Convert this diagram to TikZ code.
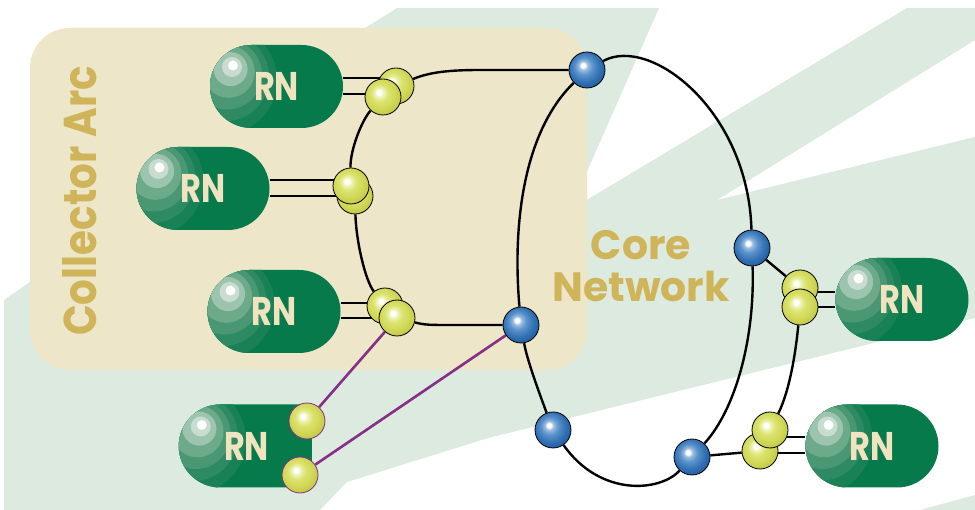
\documentclass[tikz,border=0pt]{standalone}
\usepackage{fontspec}
\usepackage{graphicx}
\setmainfont{Poppins}
\usetikzlibrary{shapes.misc}
\definecolor{bggreen}{HTML}{DCEADF}
\definecolor{beige}{HTML}{EDE6C9}
\definecolor{gold}{HTML}{CFB45A}
\definecolor{rngreen}{HTML}{067A4B}
\definecolor{rncream}{HTML}{EFE4BF}
\definecolor{purp}{HTML}{862F86}
\definecolor{yA}{HTML}{EEF3B8}
\definecolor{yB}{HTML}{DCE36F}
\definecolor{yC}{HTML}{D0D756}
\definecolor{yD}{HTML}{BDC641}
\definecolor{bA}{HTML}{9DBEE0}
\definecolor{bB}{HTML}{5B93CC}
\definecolor{bC}{HTML}{3271B3}
\definecolor{bD}{HTML}{1B5A9C}
\definecolor{gA}{HTML}{C8DDD0}
\definecolor{gB}{HTML}{9CC4AE}
\definecolor{gC}{HTML}{6DAA8A}
\definecolor{gD}{HTML}{4A9873}
\definecolor{gE}{HTML}{2D8A62}
\definecolor{gF}{HTML}{1A8157}
\pgfdeclareradialshading{yball}{\pgfpoint{-6bp}{7bp}}{color(0bp)=(white); color(3bp)=(white); color(6bp)=(yA); color(12bp)=(yB); color(21bp)=(yC); color(30bp)=(yD); color(50bp)=(yD)}
\pgfdeclareradialshading{bball}{\pgfpoint{-6bp}{7bp}}{color(0bp)=(white); color(3bp)=(white); color(6bp)=(bA); color(12bp)=(bB); color(21bp)=(bC); color(30bp)=(bD); color(50bp)=(bD)}
\pgfdeclarelayer{bg}
\pgfsetlayers{bg,main}
\tikzset{
  rnbox/.style={rounded rectangle, fill=rngreen, minimum width=133pt, minimum height=83pt, inner sep=0pt,
    text=rncream, font=\bfseries\fontsize{40}{40}\selectfont,
    path picture={\foreach \r/\c in {54/gF,44/gE,35/gD,26/gC,17/gB,10/gA,5/white}
      \fill[\c] ([xshift={-42.5pt-0.2pt*\r}, yshift={22.5pt-0.3pt*\r}]path picture bounding box.center) circle (\r pt);}},
  yb/.style={circle, minimum size=36pt, inner sep=0pt, draw=black, line width=0.8pt, shade, shading=yball},
  ybp/.style={yb, draw=purp},
  bb/.style={circle, minimum size=36pt, inner sep=0pt, draw=black, line width=0.8pt, shade, shading=bball},
  link/.style={line width=2.4pt, black},
  plink/.style={line width=2.6pt, purp},
}
\begin{document}
\begin{tikzpicture}[x=1pt,y=-1pt]
\useasboundingbox (0,0) rectangle (975,510);
% RN nodes
\node[rnbox] (RN1) at (276.5,86.5) {\scalebox{0.8}[1]{RN}};
\node[rnbox] (RN2) at (203,188.5) {\scalebox{0.8}[1]{RN}};
\node[rnbox] (RN3) at (274,311.5) {\scalebox{0.8}[1]{RN}};
\node[rnbox, rounded rectangle right arc=none] (RN4) at (246.5,446) {\scalebox{0.8}[1]{RN}};
\node[rnbox] (RN5) at (902,299.5) {\scalebox{0.8}[1]{RN}};
\node[rnbox] (RN6) at (872,446) {\scalebox{0.8}[1]{RN}};
% balls (back ones first)
\node[yb] (r1b) at (396,86) {};
\node[yb] (r1a) at (383,97) {};
\node[yb] (r2b) at (355,196) {};
\node[yb] (r2a) at (351,186) {};
\node[yb] (r3b) at (385,306) {};
\node[yb] (r3a) at (397,318) {};
\node[ybp] (r4a) at (307,421) {};
\node[ybp] (r4b) at (300,475) {};
\node[yb] (r5a) at (800,288) {};
\node[yb] (r5b) at (800,307) {};
\node[yb] (r6b) at (760,451) {};
\node[yb] (r6a) at (770,430) {};
% core nodes
\node[bb] (B1) at (587,70) {};
\node[bb] (B2) at (521,325) {};
\node[bb] (B3) at (752,248) {};
\node[bb] (B5) at (553,430) {};
\node[bb] (B6) at (692,457) {};
\begin{pgfonlayer}{bg}
\fill[white] (0,0) rectangle (975,510);
\fill[bggreen] (4,510) -- (4,300) -- (40,275) -- (367,27) -- (397,8) -- (659,8) -- (570,210) -- (907,8) -- (975,8) -- (975,40) -- (717,200) -- (975,137) -- (975,318) -- (488,438) -- (347,482) -- (320,510) -- cycle;
\fill[bggreen] (920,510) -- (975,495) -- (975,510) -- cycle;
\fill[beige, rounded corners=40pt] (30,28) rectangle (587,370);
\node[rotate=90, text=gold, font=\bfseries\fontsize{46}{46}\selectfont, inner sep=0pt] (carc) at (80,201) {\scalebox{0.88}[1]{Collector Arc}};
\node[text=gold, font=\bfseries\fontsize{41}{42}\selectfont, align=center, inner sep=0pt, anchor=base] (core) at (641,302) {Core\\Network};
% RN attachment lines
\draw[link] ([yshift=8.5pt]RN1.east) -- ([yshift=8.5pt]RN1.east -| r1b);
\draw[link] ([yshift=-7.5pt]RN1.east) -- ([yshift=-7.5pt]RN1.east -| r1a);
\draw[link] ([yshift=8.5pt]RN2.east) -- ([yshift=8.5pt]RN2.east -| r2a);
\draw[link] ([yshift=-7.5pt]RN2.east) -- ([yshift=-7.5pt]RN2.east -| r2b);
\draw[link] ([yshift=8.5pt]RN3.east) -- ([yshift=8.5pt]RN3.east -| r3b);
\draw[link] ([yshift=-6.5pt]RN3.east) -- ([yshift=-6.5pt]RN3.east -| r3a);
\draw[link] ([yshift=7.5pt]RN5.west) -- ([yshift=7.5pt]RN5.west -| r5a);
\draw[link] ([yshift=-7.5pt]RN5.west) -- ([yshift=-7.5pt]RN5.west -| r5b);
\draw[link] ([yshift=9pt]RN6.west) -- ([yshift=9pt]RN6.west -| r6a);
\draw[link] ([yshift=-7pt]RN6.west) -- ([yshift=-7pt]RN6.west -| r6b);
% collector arc
\draw[link] (r1b) .. controls (430,72) and (450,70) .. (480,70) -- (B1);
\draw[link] (r1a) .. controls (362,120) and (350,150) .. (r2a);
\draw[link] (r2b) .. controls (356,240) and (365,280) .. (r3b);
\draw[link] (r3a) .. controls (425,325) and (430,325) .. (450,325) -- (B2);
% core ring
\draw[link] (B1) .. controls (650,35) and (748,110) .. (B3);
\draw[link] (B3) .. controls (755,340) and (735,410) .. (B6);
\draw[link] (B6) .. controls (660,492) and (600,497) .. (B5);
\draw[link] (B5) .. controls (540,395) and (527,360) .. (B2);
\draw[link] (B2) .. controls (512,220) and (525,130) .. (B1);
% right side
\draw[link] (B3) -- (r5a);
\draw[link] (r5b) .. controls (796,350) and (790,390) .. (r6a);
\draw[link] (B6) -- (r6b);
% purple
\draw[plink] (r3a) -- (r4a);
\draw[plink] (B2) -- (r4b);
\draw[plink] (r4a) -- (r4b);
\end{pgfonlayer}
\end{tikzpicture}
\end{document}
